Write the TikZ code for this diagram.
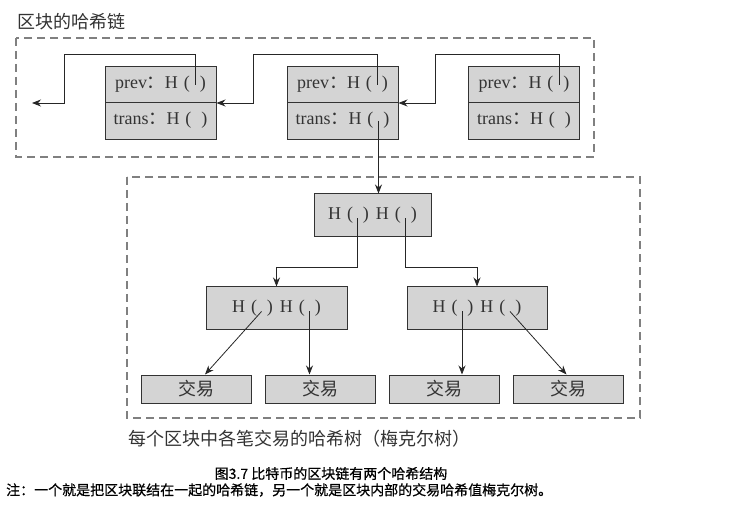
\documentclass[tikz,border=0pt]{standalone}
\usepackage{fontspec}
\setmainfont{Liberation Serif}
\newfontfamily\cjk{Noto Sans CJK SC}
\newfontfamily\cjkcap{Noto Sans CJK SC}[FakeBold=0.6]
\usetikzlibrary{shapes,arrows.meta}

\newcommand{\hh}{H\hspace{6pt}(\hspace{10pt})}
\newcommand{\partstrut}{\rule[-5pt]{0pt}{17pt}}

\begin{document}
\begin{tikzpicture}[x=1pt,y=-1pt]
\tikzstyle{every node}=[text=black!80]
\tikzstyle{block}=[
	rectangle split,
	rectangle split parts=2,
	draw=black!80, fill=black!17, line width=1pt,
	text width=101pt, inner xsep=5pt, inner ysep=9pt, align=center,
	font=\fontsize{18}{20}\selectfont ]
\tikzstyle{hbox}=[rectangle, draw=black!80, fill=black!17, line width=1pt,
	minimum height=43pt, inner sep=0pt, font=\fontsize{18}{20}\selectfont]
\tikzstyle{leaf}=[hbox, minimum width=110pt, minimum height=28pt,
	font=\cjk\fontsize{18}{20}\selectfont]
\tikzstyle{frame}=[draw=black!50, line width=1.2pt, dash pattern=on 8pt off 5pt]
\tikzstyle{link}=[-{Stealth[length=9pt,width=7pt]}, line width=0.8pt, draw=black!85]
\tikzstyle{label}=[inner sep=0pt, font=\cjk\fontsize{18}{20}\selectfont]
\tikzstyle{caption}=[inner sep=0pt, text=black, font=\cjkcap\fontsize{14}{16}\selectfont]

\useasboundingbox (0,0) rectangle (753,505);

% hash chain
\draw[frame] (16,38) rectangle (594,157);
\node[label, anchor=west] (chain) at (17,22) {区块的哈希链};
\node[block] (b1) at (160.5,103) {\partstrut prev{\cjk ：}\hh \nodepart{two} \partstrut trans{\cjk ：}\hh};
\node[block] (b2) at (342.5,103) {\partstrut prev{\cjk ：}\hh \nodepart{two} \partstrut trans{\cjk ：}\hh};
\node[block] (b3) at (524,103) {\partstrut prev{\cjk ：}\hh \nodepart{two} \partstrut trans{\cjk ：}\hh};
\coordinate (lend) at (32,103);

\draw[link] ([shift={(-21,-18)}]b1.east) |- ++(-131,-31) |- (lend);
\draw[link] ([shift={(-21,-18)}]b2.east) |- ++(-124,-31) |- (b1.east);
\draw[link] ([shift={(-21,-18)}]b3.east) |- ++(-124,-31) |- (b2.east);

% merkle tree
\draw[frame] (127,177) rectangle (640,418);
\node[label, anchor=west] (tree) at (128,439) {每个区块中各笔交易的哈希树（梅克尔树）};
\node[hbox, minimum width=117pt] (root) at (372.5,215.5) {\hh\hspace{7pt}\hh};
\node[hbox, minimum width=141pt] (ml) at (276.5,308.5) {\hh\hspace{7pt}\hh};
\node[hbox, minimum width=140pt] (mr) at (477,308.5) {\hh\hspace{7pt}\hh};
\node[leaf] (l1) at (196,389) {交易};
\node[leaf] (l2) at (320.5,389) {交易};
\node[leaf] (l3) at (444.5,389) {交易};
\node[leaf] (l4) at (568.5,389) {交易};

\draw[link] ([shift={(-20,18)}]b2.east) coordinate (t2) -- (t2 |- root.north);
\draw[link] ([shift={(-15,3)}]root.center) -- ++(0,49) -| (ml.north);
\draw[link] ([shift={(33,3)}]root.center) -- ++(0,49) -| (mr.north);
\draw[link] ([shift={(-15,3)}]ml.center) -- ([xshift=9]l1.north);
\draw[link] ([shift={(33,3)}]ml.center) coordinate (m2) -- (m2 |- l2.north);
\draw[link] ([shift={(-15,3)}]mr.center) coordinate (m3) -- (m3 |- l3.north);
\draw[link] ([shift={(33,3)}]mr.center) -- ([xshift=-2]l4.north);

% caption
\node[caption] (cap) at (331,473.5) {图3.7 比特币的区块链有两个哈希结构};
\node[caption, anchor=west] (note) at (6,490) {注：一个就是把区块联结在一起的哈希链，另一个就是区块内部的交易哈希值梅克尔树。};
\end{tikzpicture}
\end{document}
